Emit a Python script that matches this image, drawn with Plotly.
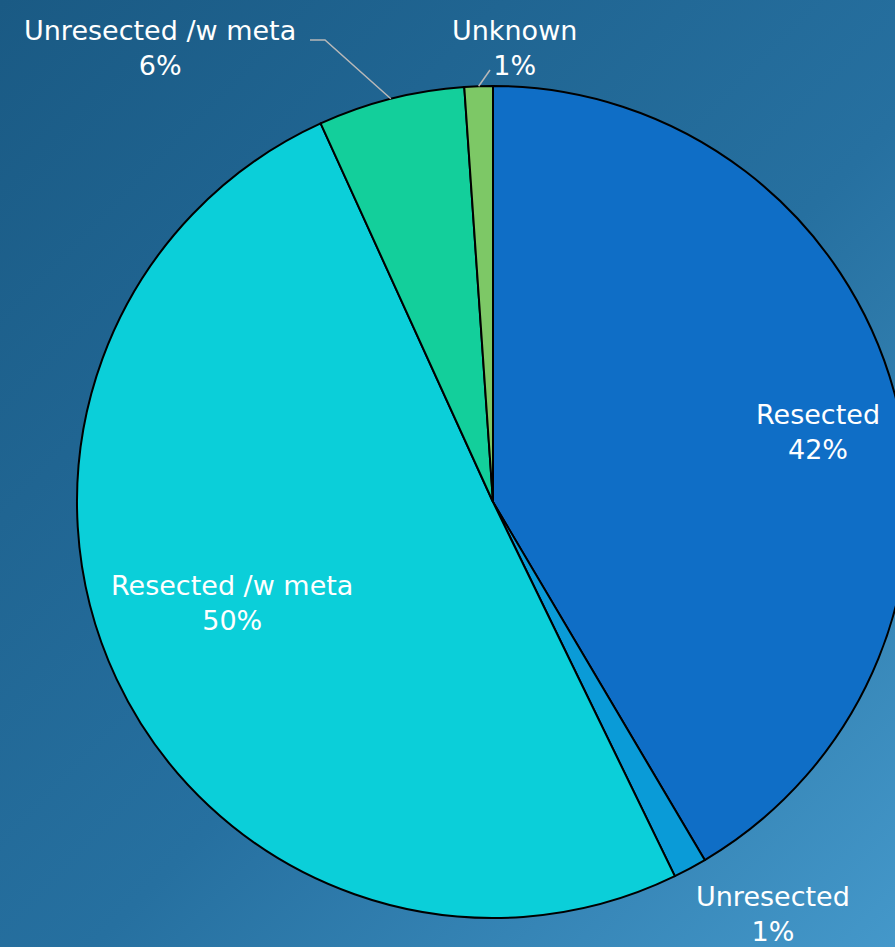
import math
import base64
import plotly.graph_objects as go

# データ
labels = ["Resected", "Unresected", "Resected /w meta", "Unresected /w meta", "Unknown"]
values = [41.5, 1.3, 50.4, 5.7, 1.1]
colors = ["#0f6ec6", "#0a9bd7", "#0bcfd9", "#13cf9b", "#7dc866"]

W, H = 920, 947
cx, cy, r = 493, 502, 416
FONT = dict(family="DejaVu Sans", size=27, color="white")

total = sum(values)
pcts = [round(v / total * 100) for v in values]

fig = go.Figure(go.Pie(
    labels=labels,
    values=values,
    sort=False,
    direction="clockwise",
    rotation=0,
    marker=dict(colors=colors, line=dict(color="#000000", width=2)),
    textinfo="none",
    domain=dict(x=[(cx - r) / W, (cx + r) / W], y=[1 - (cy + r) / H, 1 - (cy - r) / H]),
    showlegend=False,
    hoverinfo="label+percent",
))

# 背景グラデーション
svg = f"""<svg xmlns='http://www.w3.org/2000/svg' width='{W}' height='{H}'>
<defs><linearGradient id='g' x1='0' y1='0' x2='1' y2='1'>
<stop offset='0' stop-color='#1a5a84'/>
<stop offset='0.55' stop-color='#2670a0'/>
<stop offset='1' stop-color='#4599cb'/>
</linearGradient></defs>
<rect width='100%' height='100%' fill='url(#g)'/></svg>"""
bg = "data:image/svg+xml;base64," + base64.b64encode(svg.encode()).decode()


def px2paper(x, y):
    return x / W, 1 - y / H


def edge_point(i, extra=0.0):
    cum = sum(values[:i]) + values[i] / 2
    th = 2 * math.pi * cum / total
    return cx + (r + extra) * math.sin(th), cy - (r + extra) * math.cos(th)


# ラベル位置 (px)
label_pos = {0: (818, 432), 1: (773, 914), 2: (232, 603), 3: (160, 48), 4: (514, 48)}
anns = []
for i, (ax, ay) in label_pos.items():
    x, y = px2paper(ax, ay)
    anns.append(dict(text=f"{labels[i]}<br>{pcts[i]}%", x=x, y=y, xref="paper", yref="paper",
                     showarrow=False, font=FONT, xanchor="center", yanchor="middle"))

# 引き出し線
shapes = []
for i, pts in [(3, [(325, 40), (310, 40)]), (4, [(490, 70)])]:
    pts = [edge_point(i)] + pts
    path = "M " + " L ".join(f"{px2paper(x, y)[0]},{px2paper(x, y)[1]}" for x, y in pts)
    shapes.append(dict(type="path", path=path, xref="paper", yref="paper",
                       line=dict(color="#b8b8b8", width=1.5), layer="above"))

fig.update_layout(
    width=W, height=H,
    margin=dict(l=0, r=0, t=0, b=0),
    paper_bgcolor="#1f6592",
    images=[dict(source=bg, xref="paper", yref="paper", x=0, y=1, sizex=1, sizey=1,
                 sizing="stretch", xanchor="left", yanchor="top", layer="below")],
    annotations=anns,
    shapes=shapes,
)

fig.write_html("out.html", config={"displayModeBar": False},
               post_script="document.body.style.margin='0';document.body.style.overflow='hidden';")
